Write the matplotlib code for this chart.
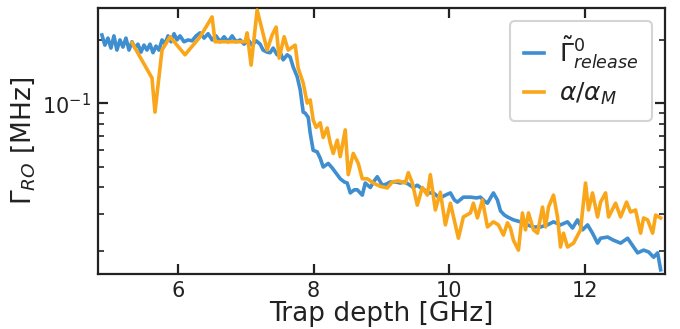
import matplotlib
matplotlib.use("Agg")
import matplotlib.pyplot as plt
from matplotlib.ticker import LogLocator, NullFormatter, FixedLocator

# Blue: Gamma~^0_release
blue_x = [4.879, 4.923, 4.968, 5.012, 5.056, 5.100, 5.145, 5.189, 5.233, 5.278,
          5.322, 5.366, 5.410, 5.455, 5.499, 5.543, 5.588, 5.632, 5.676, 5.720,
          5.765, 5.809, 5.853, 5.898, 5.942, 5.986, 6.030, 6.089, 6.148, 6.207,
          6.267, 6.326, 6.385, 6.444, 6.503, 6.562, 6.621, 6.680, 6.739, 6.798,
          6.857, 6.916, 6.975, 7.034, 7.093, 7.152, 7.211, 7.255, 7.314, 7.359,
          7.403, 7.462, 7.506, 7.551, 7.610, 7.654, 7.698, 7.757, 7.802, 7.846,
          7.875, 7.920, 7.949, 7.993, 8.052, 8.097, 8.141, 8.215, 8.274, 8.348,
          8.392, 8.451, 8.495, 8.540, 8.599, 8.643, 8.717, 8.761, 8.835, 8.894,
          8.938, 9.012, 9.071, 9.130, 9.204, 9.278, 9.337, 9.396, 9.469, 9.528,
          9.573, 9.632, 9.676, 9.765, 9.824, 9.868, 9.942, 10.016, 10.075, 10.119,
          10.207, 10.311, 10.399, 10.458, 10.517, 10.562, 10.650, 10.709, 10.754, 10.813,
          10.857, 10.945, 11.049, 11.152, 11.241, 11.344, 11.447, 11.536, 11.639, 11.742,
          11.816, 11.890, 11.964, 12.038, 12.111, 12.185, 12.230, 12.333, 12.421, 12.525,
          12.628, 12.716, 12.776, 12.864, 12.938, 13.012, 13.071, 13.115]
blue_y = [0.211, 0.189, 0.204, 0.183, 0.209, 0.179, 0.200, 0.185, 0.204, 0.179,
          0.196, 0.183, 0.191, 0.175, 0.189, 0.179, 0.191, 0.174, 0.187, 0.179,
          0.200, 0.191, 0.209, 0.196, 0.214, 0.200, 0.209, 0.196, 0.200, 0.198,
          0.209, 0.216, 0.204, 0.214, 0.200, 0.209, 0.196, 0.207, 0.196, 0.209,
          0.196, 0.200, 0.191, 0.200, 0.189, 0.198, 0.191, 0.179, 0.175, 0.174,
          0.183, 0.170, 0.175, 0.161, 0.170, 0.166, 0.149, 0.134, 0.116, 0.091,
          0.090, 0.086, 0.0725, 0.060, 0.059, 0.055, 0.050, 0.052, 0.0495, 0.046,
          0.044, 0.0425, 0.042, 0.0377, 0.039, 0.039, 0.0368, 0.042, 0.040, 0.043,
          0.045, 0.041, 0.0415, 0.0425, 0.0425, 0.042, 0.0425, 0.0415, 0.040, 0.041,
          0.040, 0.039, 0.0377, 0.0377, 0.0364, 0.0357, 0.0368, 0.0377, 0.0349, 0.0341,
          0.036, 0.036, 0.0357, 0.036, 0.0345, 0.0337, 0.0377, 0.0349, 0.031, 0.0296,
          0.029, 0.0281, 0.0275, 0.0266, 0.026, 0.026, 0.0266, 0.0275, 0.0266, 0.0275,
          0.0257, 0.0281, 0.0252, 0.0266, 0.0243, 0.0218, 0.023, 0.0233, 0.0225, 0.0218,
          0.023, 0.0209, 0.0196, 0.0202, 0.0198, 0.0187, 0.0196, 0.0163]

# Orange: alpha / alpha_M
orange_x = [5.322, 5.617, 5.661, 5.765, 5.883, 6.104, 6.326, 6.503, 6.547, 6.990,
            7.019, 7.078, 7.167, 7.241, 7.314, 7.388, 7.447, 7.492, 7.565, 7.624,
            7.728, 7.772, 7.846, 7.905, 7.949, 7.993, 8.038, 8.097, 8.141, 8.200,
            8.244, 8.289, 8.348, 8.392, 8.466, 8.510, 8.584, 8.658, 8.717, 8.790,
            8.879, 8.982, 9.086, 9.159, 9.248, 9.351, 9.396, 9.455, 9.528, 9.602,
            9.676, 9.720, 9.794, 9.868, 9.942, 10.016, 10.134, 10.207, 10.311, 10.355,
            10.414, 10.488, 10.562, 10.650, 10.724, 10.798, 10.857, 10.901, 10.945, 11.019,
            11.078, 11.123, 11.167, 11.241, 11.300, 11.374, 11.418, 11.462, 11.536, 11.595,
            11.639, 11.683, 11.742, 11.831, 11.934, 12.008, 12.052, 12.111, 12.185, 12.230,
            12.303, 12.348, 12.451, 12.525, 12.613, 12.672, 12.746, 12.820, 12.864, 12.923,
            12.997, 13.041, 13.115]
orange_y = [0.194, 0.132, 0.091, 0.179, 0.207, 0.170, 0.207, 0.257, 0.196, 0.196,
            0.216, 0.152, 0.277, 0.223, 0.179, 0.211, 0.230, 0.164, 0.207, 0.179,
            0.189, 0.147, 0.125, 0.1005, 0.104, 0.0835, 0.077, 0.081, 0.069, 0.0765,
            0.065, 0.058, 0.067, 0.056, 0.075, 0.046, 0.058, 0.052, 0.044, 0.044,
            0.042, 0.0405, 0.0398, 0.0425, 0.043, 0.042, 0.047, 0.042, 0.033, 0.040,
            0.0368, 0.046, 0.0313, 0.038, 0.0266, 0.0337, 0.023, 0.029, 0.0303, 0.0337,
            0.0287, 0.0349, 0.026, 0.0275, 0.0266, 0.0238, 0.0272, 0.0257, 0.0225, 0.0202,
            0.0303, 0.0252, 0.0303, 0.0252, 0.0243, 0.0323, 0.026, 0.0323, 0.0368, 0.029,
            0.0209, 0.0243, 0.0209, 0.0218, 0.0252, 0.042, 0.0313, 0.0377, 0.029, 0.0341,
            0.0377, 0.029, 0.0337, 0.029, 0.0341, 0.0306, 0.0313, 0.0243, 0.0287, 0.0281,
            0.0243, 0.0296, 0.0287]

x_ticks = [6, 8, 10, 12]
blue_label = r'$\tilde{\Gamma}^0_{release}$'
orange_label = r'$\alpha/\alpha_M$'

fig = plt.figure(figsize=(6.8, 3.29), dpi=100)
ax = fig.add_axes([0.144, 0.167, 0.834, 0.809])

ax.plot(blue_x, blue_y, color='#3E8ED0', lw=2.6, label=blue_label, zorder=3)
ax.plot(orange_x, orange_y, color='#FAA61A', lw=2.6, label=orange_label, zorder=4)

ax.set_yscale('log')
ax.set_xlim(4.82, 13.18)
ax.set_ylim(0.01556, 0.2836)
ax.xaxis.set_major_locator(FixedLocator(x_ticks))
ax.yaxis.set_major_locator(LogLocator(base=10, numticks=10))
ax.yaxis.set_minor_locator(LogLocator(base=10, subs=range(2, 10), numticks=10))
ax.yaxis.set_minor_formatter(NullFormatter())

for s in ax.spines.values():
    s.set_linewidth(1.6)
    s.set_color('#222222')
ax.tick_params(axis='both', which='major', direction='in', length=7, width=1.6,
               labelsize=15, top=True, right=True, color='#222222', pad=5,
               labelcolor='#222222')
ax.tick_params(axis='both', which='minor', direction='in', length=4, width=1.2,
               top=True, right=True, color='#222222')
ax.tick_params(axis='x', which='minor', bottom=False, top=False)

ax.set_xlabel('Trap depth [GHz]', fontsize=19, labelpad=0, color='#222222')
ax.set_ylabel(r'$\Gamma_{RO}$ [MHz]', fontsize=19, labelpad=4, color='#222222')

leg = ax.legend(loc='upper right', fontsize=18, handlelength=0.8, handletextpad=0.6,
                borderpad=0.55, labelspacing=0.4, framealpha=1, fancybox=True,
                borderaxespad=0, bbox_to_anchor=(0.977, 0.95))
leg.get_frame().set_edgecolor('#d4d4d4')
leg.get_frame().set_linewidth(1.5)
for t in leg.get_texts():
    t.set_color('#222222')

fig.savefig('out.png', dpi=100)
